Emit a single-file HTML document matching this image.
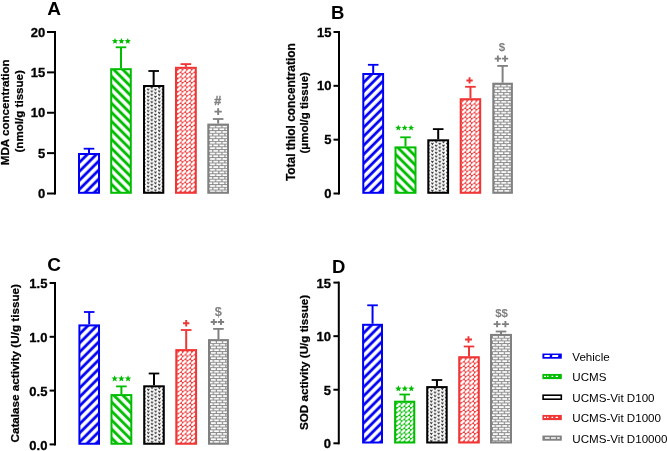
<!DOCTYPE html><html><head><meta charset="utf-8"><style>html,body{margin:0;padding:0;background:#fff;width:667px;height:451px;overflow:hidden}svg{display:block;will-change:transform}</style></head><body>
<svg width="667" height="451" viewBox="0 0 667 451" font-family='"Liberation Sans", sans-serif'>
<rect width="667" height="451" fill="#fff"/>
<line x1="55" y1="31" x2="55" y2="194.5" stroke="#000" stroke-width="2"/>
<line x1="47" y1="193.5" x2="55" y2="193.5" stroke="#000" stroke-width="2"/>
<text x="45.3" y="198.15" font-size="13" font-weight="bold" fill="#000" text-anchor="end" stroke="#000" stroke-width="0.3">0</text>
<line x1="47" y1="153.125" x2="55" y2="153.125" stroke="#000" stroke-width="2"/>
<text x="45.3" y="157.775" font-size="13" font-weight="bold" fill="#000" text-anchor="end" stroke="#000" stroke-width="0.3">5</text>
<line x1="47" y1="112.75" x2="55" y2="112.75" stroke="#000" stroke-width="2"/>
<text x="45.3" y="117.4" font-size="13" font-weight="bold" fill="#000" text-anchor="end" stroke="#000" stroke-width="0.3">10</text>
<line x1="47" y1="72.37500000000001" x2="55" y2="72.37500000000001" stroke="#000" stroke-width="2"/>
<text x="45.3" y="77.02500000000002" font-size="13" font-weight="bold" fill="#000" text-anchor="end" stroke="#000" stroke-width="0.3">15</text>
<line x1="47" y1="32.0" x2="55" y2="32.0" stroke="#000" stroke-width="2"/>
<text x="45.3" y="36.65" font-size="13" font-weight="bold" fill="#000" text-anchor="end" stroke="#000" stroke-width="0.3">20</text>
<text x="47.3" y="15" font-size="19" font-weight="bold" fill="#000" text-anchor="start" >A</text>
<text transform="translate(9,112.3) rotate(-90)" font-size="11.6" font-weight="bold" text-anchor="middle" stroke="#000" stroke-width="0.25">MDA concentration</text>
<text transform="translate(22.5,111.3) rotate(-90)" font-size="11.6" font-weight="bold" text-anchor="middle" stroke="#000" stroke-width="0.25">(nmol/g tissue)</text>
<line x1="89.0" y1="153" x2="89.0" y2="148.7" stroke="#0000f5" stroke-width="2"/>
<line x1="83.7" y1="148.7" x2="94.3" y2="148.7" stroke="#0000f5" stroke-width="1.8"/>
<pattern id="p1" patternUnits="userSpaceOnUse" width="6.36" height="6.36" patternTransform="translate(80,155) rotate(45)"><rect width="6.36" height="6.36" fill="#fff"/><rect x="3.39" y="-1" width="2.76" height="8.4" fill="#0000f5"/><rect x="-2.97" y="-1" width="2.76" height="8.4" fill="#0000f5"/></pattern>
<rect x="79" y="154" width="20" height="38.80000000000001" fill="url(#p1)" stroke="#0000f5" stroke-width="2"/>
<line x1="121.0" y1="68.2" x2="121.0" y2="47.3" stroke="#00bd00" stroke-width="2"/>
<line x1="115.7" y1="47.3" x2="126.3" y2="47.3" stroke="#00bd00" stroke-width="1.8"/>
<pattern id="p2" patternUnits="userSpaceOnUse" width="6.36" height="6.36" patternTransform="translate(112.2,70.2) rotate(-45)"><rect width="6.36" height="6.36" fill="#fff"/><rect x="0.14" y="-1" width="2.83" height="8.4" fill="#00bd00"/></pattern>
<rect x="111.2" y="69.2" width="19.60000000000001" height="123.60000000000001" fill="url(#p2)" stroke="#00bd00" stroke-width="2"/>
<line x1="153.65" y1="85" x2="153.65" y2="71" stroke="#000000" stroke-width="2"/>
<line x1="148.35" y1="71" x2="158.95000000000002" y2="71" stroke="#000000" stroke-width="1.8"/>
<pattern id="p3" patternUnits="userSpaceOnUse" x="145" y="87" width="7.4" height="3.6"><rect width="7.4" height="3.6" fill="#fff"/><path d="M2.05 1.50 L3.10 3.10 L4.15 1.50 M5.75 -0.20 L6.80 1.40 L7.85 -0.20 M-1.65 -0.20 L-0.60 1.40 L0.45 -0.20 M5.75 3.40 L6.80 5.00 L7.85 3.40 M-1.65 3.40 L-0.60 5.00 L0.45 3.40 M2.05 -2.10 L3.10 -0.50 L4.15 -2.10" stroke="#222" stroke-width="0.95" fill="none"/></pattern>
<rect x="144" y="86" width="19.30000000000001" height="106.80000000000001" fill="url(#p3)" stroke="#000000" stroke-width="2"/>
<line x1="185.9" y1="66.8" x2="185.9" y2="64.1" stroke="#f03535" stroke-width="2"/>
<line x1="180.6" y1="64.1" x2="191.20000000000002" y2="64.1" stroke="#f03535" stroke-width="1.8"/>
<pattern id="p4" patternUnits="userSpaceOnUse" x="177" y="68.8" width="4.6" height="4.4"><rect width="4.6" height="4.4" fill="#f03535"/><path d="M0.2 4.2 L4.4 0.2" stroke="#fff" stroke-width="2.6" fill="none"/></pattern>
<rect x="176" y="67.8" width="19.80000000000001" height="125.00000000000001" fill="url(#p4)" stroke="#f03535" stroke-width="2"/>
<line x1="218.15" y1="123.6" x2="218.15" y2="119" stroke="#808080" stroke-width="2"/>
<line x1="212.85" y1="119" x2="223.45000000000002" y2="119" stroke="#808080" stroke-width="1.8"/>
<pattern id="p5" patternUnits="userSpaceOnUse" x="209.3" y="125.6" width="6.15" height="5.4"><rect width="6.15" height="5.4" fill="#808080"/><rect x="0.8" y="0.1" width="5.1" height="1.8" fill="#fff"/><rect x="3.9" y="2.8" width="5.1" height="1.8" fill="#fff"/><rect x="-2.25" y="2.8" width="5.1" height="1.8" fill="#fff"/></pattern>
<rect x="208.3" y="124.6" width="19.69999999999999" height="68.20000000000002" fill="url(#p5)" stroke="#808080" stroke-width="2"/>
<polygon points="115.02,37.95 115.86,40.04 118.12,40.20 116.38,41.65 116.93,43.84 115.02,42.64 113.10,43.84 113.65,41.65 111.92,40.20 114.17,40.04" fill="#00bd00"/>
<polygon points="121.40,37.95 122.24,40.04 124.50,40.20 122.76,41.65 123.32,43.84 121.40,42.64 119.48,43.84 120.04,41.65 118.30,40.20 120.56,40.04" fill="#00bd00"/>
<polygon points="127.78,37.95 128.63,40.04 130.88,40.20 129.15,41.65 129.70,43.84 127.78,42.64 125.87,43.84 126.42,41.65 124.68,40.20 126.94,40.04" fill="#00bd00"/>
<path d="M214.5 111.6 H221.8 M218.15 108.2 V115" stroke="#808080" stroke-width="1.9" fill="none"/>
<text x="217.8" y="105" font-size="12.5" font-weight="bold" fill="#808080" text-anchor="middle" stroke="#808080" stroke-width="0.4">#</text>
<line x1="339" y1="31" x2="339" y2="194.5" stroke="#000" stroke-width="2"/>
<line x1="333.5" y1="193.5" x2="339" y2="193.5" stroke="#000" stroke-width="2"/>
<text x="331.4" y="198.15" font-size="13" font-weight="bold" fill="#000" text-anchor="end" stroke="#000" stroke-width="0.3">0</text>
<line x1="333.5" y1="139.66666666666666" x2="339" y2="139.66666666666666" stroke="#000" stroke-width="2"/>
<text x="331.4" y="144.31666666666666" font-size="13" font-weight="bold" fill="#000" text-anchor="end" stroke="#000" stroke-width="0.3">5</text>
<line x1="333.5" y1="85.83333333333333" x2="339" y2="85.83333333333333" stroke="#000" stroke-width="2"/>
<text x="331.4" y="90.48333333333333" font-size="13" font-weight="bold" fill="#000" text-anchor="end" stroke="#000" stroke-width="0.3">10</text>
<line x1="333.5" y1="32.0" x2="339" y2="32.0" stroke="#000" stroke-width="2"/>
<text x="331.4" y="36.65" font-size="13" font-weight="bold" fill="#000" text-anchor="end" stroke="#000" stroke-width="0.3">15</text>
<text x="331" y="18.6" font-size="18.5" font-weight="bold" fill="#000" text-anchor="start" >B</text>
<text transform="translate(294.5,112.15) rotate(-90)" font-size="11.9" font-weight="bold" text-anchor="middle" stroke="#000" stroke-width="0.25">Total thiol concentration</text>
<text transform="translate(308.4,112.85) rotate(-90)" font-size="11.45" font-weight="bold" text-anchor="middle" stroke="#000" stroke-width="0.25">(μmol/g tissue)</text>
<line x1="373.20000000000005" y1="73" x2="373.20000000000005" y2="64.8" stroke="#0000f5" stroke-width="2"/>
<line x1="367.90000000000003" y1="64.8" x2="378.50000000000006" y2="64.8" stroke="#0000f5" stroke-width="1.8"/>
<pattern id="p6" patternUnits="userSpaceOnUse" width="6.36" height="6.36" patternTransform="translate(364.3,75) rotate(45)"><rect width="6.36" height="6.36" fill="#fff"/><rect x="3.39" y="-1" width="2.76" height="8.4" fill="#0000f5"/><rect x="-2.97" y="-1" width="2.76" height="8.4" fill="#0000f5"/></pattern>
<rect x="363.3" y="74" width="19.80000000000001" height="118.80000000000001" fill="url(#p6)" stroke="#0000f5" stroke-width="2"/>
<line x1="405.5" y1="146.4" x2="405.5" y2="137.3" stroke="#00bd00" stroke-width="2"/>
<line x1="400.2" y1="137.3" x2="410.8" y2="137.3" stroke="#00bd00" stroke-width="1.8"/>
<pattern id="p7" patternUnits="userSpaceOnUse" width="6.36" height="6.36" patternTransform="translate(396.5,148.4) rotate(-45)"><rect width="6.36" height="6.36" fill="#fff"/><rect x="0.14" y="-1" width="2.83" height="8.4" fill="#00bd00"/></pattern>
<rect x="395.5" y="147.4" width="20.0" height="45.400000000000006" fill="url(#p7)" stroke="#00bd00" stroke-width="2"/>
<line x1="438.20000000000005" y1="139.3" x2="438.20000000000005" y2="129.1" stroke="#000000" stroke-width="2"/>
<line x1="432.90000000000003" y1="129.1" x2="443.50000000000006" y2="129.1" stroke="#000000" stroke-width="1.8"/>
<pattern id="p8" patternUnits="userSpaceOnUse" x="429.3" y="141.3" width="7.4" height="3.6"><rect width="7.4" height="3.6" fill="#fff"/><path d="M2.05 1.50 L3.10 3.10 L4.15 1.50 M5.75 -0.20 L6.80 1.40 L7.85 -0.20 M-1.65 -0.20 L-0.60 1.40 L0.45 -0.20 M5.75 3.40 L6.80 5.00 L7.85 3.40 M-1.65 3.40 L-0.60 5.00 L0.45 3.40 M2.05 -2.10 L3.10 -0.50 L4.15 -2.10" stroke="#222" stroke-width="0.95" fill="none"/></pattern>
<rect x="428.3" y="140.3" width="19.80000000000001" height="52.5" fill="url(#p8)" stroke="#000000" stroke-width="2"/>
<line x1="470.45" y1="98.2" x2="470.45" y2="86.8" stroke="#f03535" stroke-width="2"/>
<line x1="465.15" y1="86.8" x2="475.75" y2="86.8" stroke="#f03535" stroke-width="1.8"/>
<pattern id="p9" patternUnits="userSpaceOnUse" x="461.7" y="100.2" width="4.6" height="4.4"><rect width="4.6" height="4.4" fill="#f03535"/><path d="M0.2 4.2 L4.4 0.2" stroke="#fff" stroke-width="2.6" fill="none"/></pattern>
<rect x="460.7" y="99.2" width="19.5" height="93.60000000000001" fill="url(#p9)" stroke="#f03535" stroke-width="2"/>
<line x1="502.6" y1="82.7" x2="502.6" y2="65.9" stroke="#808080" stroke-width="2"/>
<line x1="497.3" y1="65.9" x2="507.90000000000003" y2="65.9" stroke="#808080" stroke-width="1.8"/>
<pattern id="p10" patternUnits="userSpaceOnUse" x="494.3" y="84.7" width="6.15" height="5.4"><rect width="6.15" height="5.4" fill="#808080"/><rect x="0.8" y="0.1" width="5.1" height="1.8" fill="#fff"/><rect x="3.9" y="2.8" width="5.1" height="1.8" fill="#fff"/><rect x="-2.25" y="2.8" width="5.1" height="1.8" fill="#fff"/></pattern>
<rect x="493.3" y="83.7" width="18.599999999999966" height="109.10000000000001" fill="url(#p10)" stroke="#808080" stroke-width="2"/>
<polygon points="398.32,124.63 399.16,126.72 401.42,126.88 399.68,128.33 400.23,130.52 398.32,129.32 396.40,130.52 396.95,128.33 395.22,126.88 397.47,126.72" fill="#00bd00"/>
<polygon points="404.70,124.63 405.54,126.72 407.80,126.88 406.06,128.33 406.62,130.52 404.70,129.32 402.78,130.52 403.34,128.33 401.60,126.88 403.86,126.72" fill="#00bd00"/>
<polygon points="411.08,124.63 411.93,126.72 414.18,126.88 412.45,128.33 413.00,130.52 411.08,129.32 409.17,130.52 409.72,128.33 407.98,126.88 410.24,126.72" fill="#00bd00"/>
<path d="M466.4 80.44999999999999 H472.7 M469.54999999999995 77.3 V83.6" stroke="#f03535" stroke-width="1.9" fill="none"/>
<path d="M494.7 58.65 H501 M497.85 55.5 V61.8" stroke="#808080" stroke-width="1.9" fill="none"/>
<path d="M501.9 58.65 H508.2 M505.04999999999995 55.5 V61.8" stroke="#808080" stroke-width="1.9" fill="none"/>
<text x="502" y="50.7" font-size="11.5" font-weight="bold" fill="#808080" text-anchor="middle" >$</text>
<line x1="55" y1="282" x2="55" y2="445.4" stroke="#000" stroke-width="2"/>
<line x1="49.6" y1="444.4" x2="55" y2="444.4" stroke="#000" stroke-width="2"/>
<text x="47.4" y="449.65" font-size="13" font-weight="bold" fill="#000" text-anchor="end" stroke="#000" stroke-width="0.3">0.0</text>
<line x1="49.6" y1="390.59999999999997" x2="55" y2="390.59999999999997" stroke="#000" stroke-width="2"/>
<text x="47.4" y="395.84999999999997" font-size="13" font-weight="bold" fill="#000" text-anchor="end" stroke="#000" stroke-width="0.3">0.5</text>
<line x1="49.6" y1="336.8" x2="55" y2="336.8" stroke="#000" stroke-width="2"/>
<text x="47.4" y="342.05" font-size="13" font-weight="bold" fill="#000" text-anchor="end" stroke="#000" stroke-width="0.3">1.0</text>
<line x1="49.6" y1="283.0" x2="55" y2="283.0" stroke="#000" stroke-width="2"/>
<text x="47.4" y="288.25" font-size="13" font-weight="bold" fill="#000" text-anchor="end" stroke="#000" stroke-width="0.3">1.5</text>
<text x="47.3" y="271.3" font-size="19" font-weight="bold" fill="#000" text-anchor="start" >C</text>
<text transform="translate(19.1,363.3) rotate(-90)" font-size="11.7" font-weight="bold" text-anchor="middle" stroke="#000" stroke-width="0.25">Catalase activity (U/g tissue)</text>
<line x1="89.2" y1="324.4" x2="89.2" y2="312" stroke="#0000f5" stroke-width="2"/>
<line x1="83.9" y1="312" x2="94.5" y2="312" stroke="#0000f5" stroke-width="1.8"/>
<pattern id="p11" patternUnits="userSpaceOnUse" width="6.36" height="6.36" patternTransform="translate(80.4,326.4) rotate(45)"><rect width="6.36" height="6.36" fill="#fff"/><rect x="3.39" y="-1" width="2.76" height="8.4" fill="#0000f5"/><rect x="-2.97" y="-1" width="2.76" height="8.4" fill="#0000f5"/></pattern>
<rect x="79.4" y="325.4" width="19.599999999999994" height="118.35000000000002" fill="url(#p11)" stroke="#0000f5" stroke-width="2"/>
<line x1="121.4" y1="394.1" x2="121.4" y2="386.4" stroke="#00bd00" stroke-width="2"/>
<line x1="116.10000000000001" y1="386.4" x2="126.7" y2="386.4" stroke="#00bd00" stroke-width="1.8"/>
<pattern id="p12" patternUnits="userSpaceOnUse" width="6.36" height="6.36" patternTransform="translate(112.5,396.1) rotate(-45)"><rect width="6.36" height="6.36" fill="#fff"/><rect x="0.14" y="-1" width="2.83" height="8.4" fill="#00bd00"/></pattern>
<rect x="111.5" y="395.1" width="19.80000000000001" height="48.64999999999998" fill="url(#p12)" stroke="#00bd00" stroke-width="2"/>
<line x1="154.0" y1="385.3" x2="154.0" y2="373.5" stroke="#000000" stroke-width="2"/>
<line x1="148.7" y1="373.5" x2="159.3" y2="373.5" stroke="#000000" stroke-width="1.8"/>
<pattern id="p13" patternUnits="userSpaceOnUse" x="145.2" y="387.3" width="7.4" height="3.6"><rect width="7.4" height="3.6" fill="#fff"/><path d="M2.05 1.50 L3.10 3.10 L4.15 1.50 M5.75 -0.20 L6.80 1.40 L7.85 -0.20 M-1.65 -0.20 L-0.60 1.40 L0.45 -0.20 M5.75 3.40 L6.80 5.00 L7.85 3.40 M-1.65 3.40 L-0.60 5.00 L0.45 3.40 M2.05 -2.10 L3.10 -0.50 L4.15 -2.10" stroke="#222" stroke-width="0.95" fill="none"/></pattern>
<rect x="144.2" y="386.3" width="19.600000000000023" height="57.44999999999999" fill="url(#p13)" stroke="#000000" stroke-width="2"/>
<line x1="186.2" y1="349.1" x2="186.2" y2="330" stroke="#f03535" stroke-width="2"/>
<line x1="180.89999999999998" y1="330" x2="191.5" y2="330" stroke="#f03535" stroke-width="1.8"/>
<pattern id="p14" patternUnits="userSpaceOnUse" x="177.3" y="351.1" width="4.6" height="4.4"><rect width="4.6" height="4.4" fill="#f03535"/><path d="M0.2 4.2 L4.4 0.2" stroke="#fff" stroke-width="2.6" fill="none"/></pattern>
<rect x="176.3" y="350.1" width="19.799999999999983" height="93.64999999999998" fill="url(#p14)" stroke="#f03535" stroke-width="2"/>
<line x1="218.45" y1="339.1" x2="218.45" y2="328.9" stroke="#808080" stroke-width="2"/>
<line x1="213.14999999999998" y1="328.9" x2="223.75" y2="328.9" stroke="#808080" stroke-width="1.8"/>
<pattern id="p15" patternUnits="userSpaceOnUse" x="210" y="341.1" width="6.15" height="5.4"><rect width="6.15" height="5.4" fill="#808080"/><rect x="0.8" y="0.1" width="5.1" height="1.8" fill="#fff"/><rect x="3.9" y="2.8" width="5.1" height="1.8" fill="#fff"/><rect x="-2.25" y="2.8" width="5.1" height="1.8" fill="#fff"/></pattern>
<rect x="209" y="340.1" width="18.900000000000006" height="103.64999999999998" fill="url(#p15)" stroke="#808080" stroke-width="2"/>
<polygon points="114.65,375.23 115.54,377.43 117.90,377.59 116.08,379.12 116.66,381.42 114.65,380.16 112.64,381.42 113.22,379.12 111.40,377.59 113.77,377.43" fill="#00bd00"/>
<polygon points="121.35,375.23 122.23,377.43 124.60,377.59 122.78,379.12 123.36,381.42 121.35,380.16 119.34,381.42 119.92,379.12 118.10,377.59 120.47,377.43" fill="#00bd00"/>
<polygon points="128.05,375.23 128.93,377.43 131.30,377.59 129.48,379.12 130.06,381.42 128.05,380.16 126.04,381.42 126.62,379.12 124.80,377.59 127.16,377.43" fill="#00bd00"/>
<path d="M183 323.2 H189.4 M186.2 320 V326.4" stroke="#f03535" stroke-width="1.9" fill="none"/>
<path d="M210.7 321.95 H217 M213.85 318.9 V325" stroke="#808080" stroke-width="1.9" fill="none"/>
<path d="M217.8 321.95 H224.1 M220.95 318.9 V325" stroke="#808080" stroke-width="1.9" fill="none"/>
<text x="218.2" y="316.4" font-size="12.8" font-weight="bold" fill="#808080" text-anchor="middle" >$</text>
<line x1="338.8" y1="281.6" x2="338.8" y2="444.3" stroke="#000" stroke-width="2"/>
<line x1="333.4" y1="443.3" x2="338.8" y2="443.3" stroke="#000" stroke-width="2"/>
<text x="331" y="448.45" font-size="13" font-weight="bold" fill="#000" text-anchor="end" stroke="#000" stroke-width="0.3">0</text>
<line x1="333.4" y1="389.73333333333335" x2="338.8" y2="389.73333333333335" stroke="#000" stroke-width="2"/>
<text x="331" y="394.8833333333333" font-size="13" font-weight="bold" fill="#000" text-anchor="end" stroke="#000" stroke-width="0.3">5</text>
<line x1="333.4" y1="336.1666666666667" x2="338.8" y2="336.1666666666667" stroke="#000" stroke-width="2"/>
<text x="331" y="341.31666666666666" font-size="13" font-weight="bold" fill="#000" text-anchor="end" stroke="#000" stroke-width="0.3">10</text>
<line x1="333.4" y1="282.6" x2="338.8" y2="282.6" stroke="#000" stroke-width="2"/>
<text x="331" y="287.75" font-size="13" font-weight="bold" fill="#000" text-anchor="end" stroke="#000" stroke-width="0.3">15</text>
<text x="332" y="273.2" font-size="18.5" font-weight="bold" fill="#000" text-anchor="start" >D</text>
<text transform="translate(308.1,362.4) rotate(-90)" font-size="11.65" font-weight="bold" text-anchor="middle" stroke="#000" stroke-width="0.25">SOD activity (U/g tissue)</text>
<line x1="372.55" y1="323.8" x2="372.55" y2="305.3" stroke="#0000f5" stroke-width="2"/>
<line x1="367.25" y1="305.3" x2="377.85" y2="305.3" stroke="#0000f5" stroke-width="1.8"/>
<pattern id="p16" patternUnits="userSpaceOnUse" width="6.36" height="6.36" patternTransform="translate(364.1,325.8) rotate(45)"><rect width="6.36" height="6.36" fill="#fff"/><rect x="3.39" y="-1" width="2.76" height="8.4" fill="#0000f5"/><rect x="-2.97" y="-1" width="2.76" height="8.4" fill="#0000f5"/></pattern>
<rect x="363.1" y="324.8" width="18.899999999999977" height="117.69999999999999" fill="url(#p16)" stroke="#0000f5" stroke-width="2"/>
<line x1="404.70000000000005" y1="400.7" x2="404.70000000000005" y2="394.5" stroke="#00bd00" stroke-width="2"/>
<line x1="399.40000000000003" y1="394.5" x2="410.00000000000006" y2="394.5" stroke="#00bd00" stroke-width="1.8"/>
<pattern id="p17" patternUnits="userSpaceOnUse" x="396.1" y="402.7" width="4.6" height="4.4"><rect width="4.6" height="4.4" fill="#00bd00"/><path d="M0.2 4.2 L4.4 0.2" stroke="#fff" stroke-width="2.6" fill="none"/></pattern>
<rect x="395.1" y="401.7" width="19.19999999999999" height="40.80000000000001" fill="url(#p17)" stroke="#00bd00" stroke-width="2"/>
<line x1="436.95" y1="386.1" x2="436.95" y2="380" stroke="#000000" stroke-width="2"/>
<line x1="431.65" y1="380" x2="442.25" y2="380" stroke="#000000" stroke-width="1.8"/>
<pattern id="p18" patternUnits="userSpaceOnUse" x="428.2" y="388.1" width="7.4" height="3.6"><rect width="7.4" height="3.6" fill="#fff"/><path d="M2.05 1.50 L3.10 3.10 L4.15 1.50 M5.75 -0.20 L6.80 1.40 L7.85 -0.20 M-1.65 -0.20 L-0.60 1.40 L0.45 -0.20 M5.75 3.40 L6.80 5.00 L7.85 3.40 M-1.65 3.40 L-0.60 5.00 L0.45 3.40 M2.05 -2.10 L3.10 -0.50 L4.15 -2.10" stroke="#222" stroke-width="0.95" fill="none"/></pattern>
<rect x="427.2" y="387.1" width="19.5" height="55.39999999999998" fill="url(#p18)" stroke="#000000" stroke-width="2"/>
<line x1="469.0" y1="356.2" x2="469.0" y2="346.5" stroke="#f03535" stroke-width="2"/>
<line x1="463.7" y1="346.5" x2="474.3" y2="346.5" stroke="#f03535" stroke-width="1.8"/>
<pattern id="p19" patternUnits="userSpaceOnUse" x="460.2" y="358.2" width="4.6" height="4.4"><rect width="4.6" height="4.4" fill="#f03535"/><path d="M0.2 4.2 L4.4 0.2" stroke="#fff" stroke-width="2.6" fill="none"/></pattern>
<rect x="459.2" y="357.2" width="19.600000000000023" height="85.30000000000001" fill="url(#p19)" stroke="#f03535" stroke-width="2"/>
<line x1="501.0" y1="333.9" x2="501.0" y2="331.5" stroke="#808080" stroke-width="2"/>
<line x1="495.7" y1="331.5" x2="506.3" y2="331.5" stroke="#808080" stroke-width="1.8"/>
<pattern id="p20" patternUnits="userSpaceOnUse" x="492" y="335.9" width="6.15" height="5.4"><rect width="6.15" height="5.4" fill="#808080"/><rect x="0.8" y="0.1" width="5.1" height="1.8" fill="#fff"/><rect x="3.9" y="2.8" width="5.1" height="1.8" fill="#fff"/><rect x="-2.25" y="2.8" width="5.1" height="1.8" fill="#fff"/></pattern>
<rect x="491" y="334.9" width="20" height="107.60000000000002" fill="url(#p20)" stroke="#808080" stroke-width="2"/>
<polygon points="398.36,385.36 399.22,387.50 401.51,387.65 399.75,389.13 400.31,391.36 398.36,390.13 396.41,391.36 396.97,389.13 395.21,387.65 397.50,387.50" fill="#00bd00"/>
<polygon points="404.85,385.36 405.71,387.50 408.00,387.65 406.24,389.13 406.80,391.36 404.85,390.13 402.90,391.36 403.46,389.13 401.70,387.65 403.99,387.50" fill="#00bd00"/>
<polygon points="411.34,385.36 412.20,387.50 414.49,387.65 412.73,389.13 413.29,391.36 411.34,390.13 409.39,391.36 409.95,389.13 408.19,387.65 410.48,387.50" fill="#00bd00"/>
<path d="M465 339.45 H472 M468.5 336.2 V342.7" stroke="#f03535" stroke-width="1.9" fill="none"/>
<path d="M493.6 324.1 H500.6 M497.1 320.9 V327.3" stroke="#808080" stroke-width="1.9" fill="none"/>
<path d="M501.9 324.1 H508.9 M505.4 320.9 V327.3" stroke="#808080" stroke-width="1.9" fill="none"/>
<text x="501.6" y="316.6" font-size="11.5" font-weight="bold" fill="#808080" text-anchor="middle" >$$</text>
<rect x="542.4" y="353.55" width="19.4" height="5.15" fill="#0000f5"/>
<path d="M544.2 356.9 L549.6 356.9 L549.9 355.1 L544.5 355.1 Z M552 356.9 L558 356.9 L558.4 355.1 L552.4 355.1 Z" fill="#fff"/>
<text x="572.3" y="360.6" font-size="11.6" font-weight="normal" fill="#000" text-anchor="start" >Vehicle</text>
<rect x="542.4" y="373.95" width="19.4" height="5.15" fill="#00bd00"/>
<path d="M544.1 376.4 H546 M547 376.4 H548.6 M551.5 376.4 H553.2 M555.6 376.4 H558" stroke="#fff" stroke-width="1.4"/>
<text x="572.3" y="381.0" font-size="11.6" font-weight="normal" fill="#000" text-anchor="start" >UCMS</text>
<rect x="543.1" y="395.2" width="18.2" height="4.0" fill="none" stroke="#000" stroke-width="1.6"/>
<path d="M544.6 397.2 H551 M552.6 397.2 H559.2" stroke="#fff" stroke-width="1.4"/>
<text x="572.3" y="401.8" font-size="11.6" font-weight="normal" fill="#000" text-anchor="start" >UCMS-Vit D100</text>
<rect x="542.4" y="414.95" width="19.4" height="5.15" fill="#f03535"/>
<path d="M544.1 417.4 H546 M547 417.4 H548.6 M551.5 417.4 H553.2 M555.6 417.4 H558" stroke="#fff" stroke-width="1.4"/>
<text x="572.3" y="422.0" font-size="11.6" font-weight="normal" fill="#000" text-anchor="start" >UCMS-Vit D1000</text>
<rect x="542.4" y="435.55" width="19.4" height="5.15" fill="#808080"/>
<path d="M544.9 438.0 H549.7 M551 438.0 H555.8 M557.1 438.0 H559.8" stroke="#fff" stroke-width="1.6"/>
<text x="572.3" y="442.6" font-size="11.6" font-weight="normal" fill="#000" text-anchor="start" >UCMS-Vit D10000</text>
</svg></body></html>
